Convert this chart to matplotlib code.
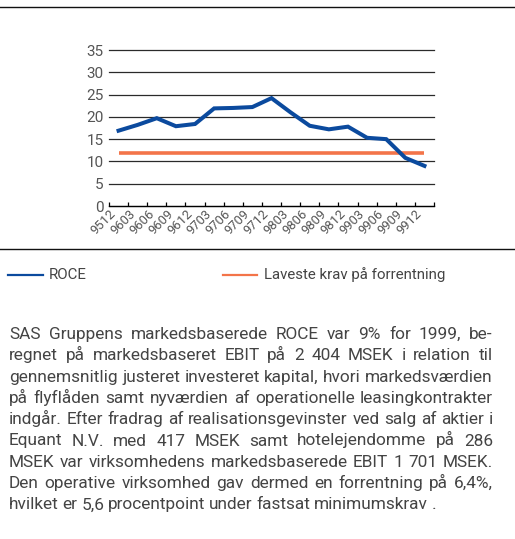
import numpy as np
import matplotlib.pyplot as plt
from matplotlib.lines import Line2D
from matplotlib.transforms import IdentityTransform

plt.rcParams['font.family'] = ['Roboto', 'DejaVu Sans']

# data
periods = ['9512', '9603', '9606', '9609', '9612', '9703', '9706', '9709', '9712',
           '9803', '9806', '9809', '9812', '9903', '9906', '9909', '9912']
roce = [16.9, 18.2, 19.7, 17.9, 18.4, 21.9, 22.0, 22.2, 24.2,
        21.0, 18.0, 17.2, 17.8, 15.3, 15.0, 10.8, 9.0]
krav = [12] * len(periods)
yticks = [0, 5, 10, 15, 20, 25, 30, 35]

legend_labels = ['ROCE', 'Laveste krav på forrentning']
paragraph = [
    "SAS Gruppens markedsbaserede ROCE var 9% for 1999, be-",
    "regnet på markedsbaseret EBIT på 2 404 MSEK i relation til",
    "gennemsnitlig justeret investeret kapital, hvori markedsværdien",
    "på flyflåden samt nyværdien af operationelle leasingkontrakter",
    "indgår. Efter fradrag af realisationsgevinster ved salg af aktier i",
    "Equant N.V. med 417 MSEK samt hotelejendomme på 286",
    "MSEK var virksomhedens markedsbaserede EBIT 1 701 MSEK.",
    "Den operative virksomhed gav dermed en forrentning på 6,4%,",
    "hvilket er 5,6 procentpoint under fastsat minimumskrav .",
]

blue = '#0b4a9e'
orange = '#f37449'
txt = '#444444'

W, H = 515, 539
fig = plt.figure(figsize=(W / 100, H / 100), dpi=100)
ax = fig.add_axes([109 / W, 1 - 206 / H, (434 - 109) / W, (206 - 50) / H])

x = np.arange(len(periods))
ax.plot(x, krav, color=orange, lw=2.6, solid_capstyle='butt', zorder=3)
ax.plot(x, roce, color=blue, lw=2.9, solid_joinstyle='miter', zorder=4)

ax.set_xlim(-0.5, len(periods) - 0.5)
ax.set_ylim(0, 35)
ax.set_yticks(yticks)
ax.set_yticklabels([str(v) for v in yticks], fontsize=11, color='#555555')
ax.tick_params(axis='y', length=0, pad=4)

ax.set_xticks(np.arange(len(periods) + 1) - 0.5)
ax.set_xticklabels([])
ax.set_xticks(x, minor=True)
ax.set_xticklabels(periods, minor=True, rotation=45, ha='right',
                   fontsize=9.4, color='#555555')
ax.tick_params(axis='x', which='major', direction='in', length=3, width=0.9)
ax.tick_params(axis='x', which='minor', length=0, pad=1)

ax.yaxis.grid(True, color='#2a2a2a', lw=0.9)
for gl in ax.get_ygridlines():
    gl.set_clip_on(False)
ax.set_axisbelow(True)
for s in ['top', 'right', 'left']:
    ax.spines[s].set_visible(False)
ax.spines['bottom'].set_linewidth(0.9)

# frame rules
fig.add_artist(Line2D([0, W], [H - 7, H - 7], transform=IdentityTransform(),
                      color='#111111', lw=1.0))
fig.add_artist(Line2D([0, W], [H - 249, H - 249], transform=IdentityTransform(),
                      color='#111111', lw=1.0))

fig.canvas.draw()
r = fig.canvas.get_renderer()


def width_at(s, size):
    t = fig.text(0, 0, s, fontsize=size)
    w = t.get_window_extent(r).width
    t.remove()
    return w


# legend
lfs = 10 * 182 / width_at(legend_labels[1], 10)
for (x0, x1, tx), col, lab in zip([(8, 43, 49), (223, 257, 264)],
                                  [blue, orange], legend_labels):
    fig.add_artist(Line2D([x0, x1], [H - 275, H - 275],
                          transform=IdentityTransform(), color=col, lw=1.6))
    fig.text(tx, H - 275, lab, transform=IdentityTransform(), fontsize=lfs,
             color=txt, va='center', ha='left')

# justified paragraph: font size set by the tightest line
left, right = 9, 493
em_gap = 0.22
sizes = []
for line in paragraph[:-1]:
    ws = line.split(' ')
    s10 = sum(width_at(w, 10) for w in ws)
    sizes.append((right - left) / (s10 / 10 + (len(ws) - 1) * em_gap / 0.72))
fs = min(sizes)
sp = em_gap * fs / 0.72
for i, line in enumerate(paragraph):
    yb = H - (339 + 21.3 * i)
    words = line.split(' ')
    arts = [fig.text(0, yb, w, transform=IdentityTransform(), fontsize=fs,
                     color=txt, va='baseline', ha='left') for w in words]
    widths = [a.get_window_extent(r).width for a in arts]
    if i < len(paragraph) - 1 and len(words) > 1:
        gap = (right - left - sum(widths)) / (len(words) - 1)
    else:
        gap = sp
    xp = left
    for a, w in zip(arts, widths):
        a.set_x(xp)
        xp += w + gap

fig.savefig('out.png', dpi=100)
